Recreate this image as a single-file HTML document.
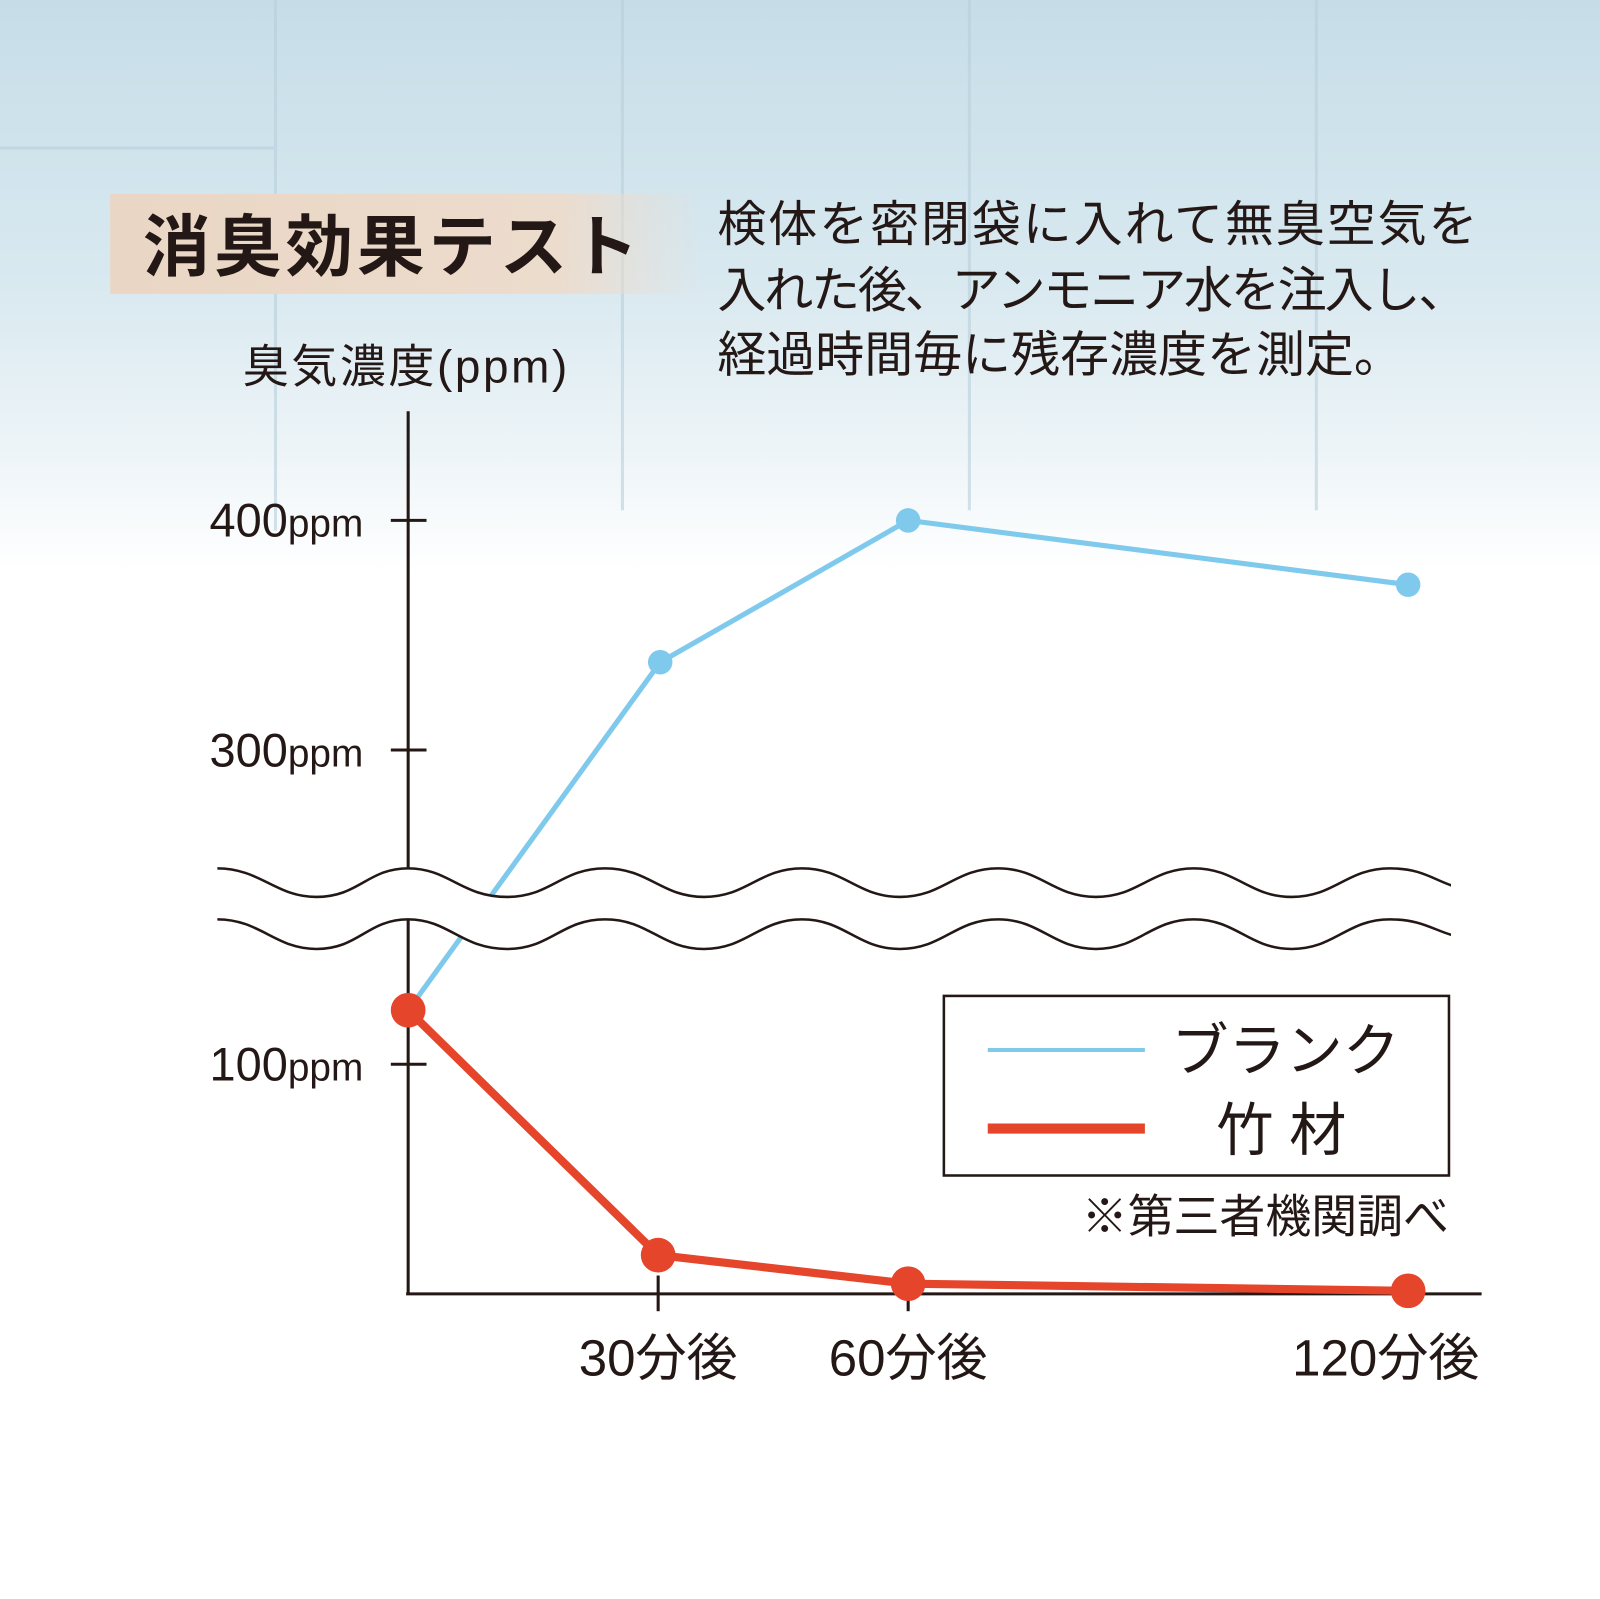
<!DOCTYPE html>
<html><head><meta charset="utf-8"><style>
body{margin:0;width:1600px;height:1599px;overflow:hidden;background:#fff;font-family:"Liberation Sans","Noto Sans CJK JP",sans-serif}
</style></head><body>
<svg width="1600" height="1599" xmlns="http://www.w3.org/2000/svg" style="position:absolute;left:0;top:0">
<defs>
<linearGradient id="bg" x1="0" y1="0" x2="0" y2="1">
<stop offset="0" stop-color="#c6dde8"/><stop offset="0.5" stop-color="#d9e9f0"/><stop offset="0.8" stop-color="#eef5f8"/><stop offset="1" stop-color="#fff"/></linearGradient>
<linearGradient id="tb" x1="0" y1="0" x2="1" y2="0">
<stop offset="0" stop-color="#ead6c4"/><stop offset="0.75" stop-color="#ecdccd"/><stop offset="1" stop-color="#ecdccd" stop-opacity="0"/></linearGradient>
<clipPath id="wc"><rect x="0" y="780" width="1422" height="200"/></clipPath>
</defs>
<g transform="scale(1.0204)">
<rect x="0" y="0" width="1600" height="560" fill="url(#bg)"/>
<g stroke="#b9d0dc" stroke-width="3" opacity="0.6">
<line x1="270" y1="0" x2="270" y2="520"/><line x1="610" y1="0" x2="610" y2="500"/><line x1="950" y1="0" x2="950" y2="500"/><line x1="1290" y1="0" x2="1290" y2="500"/><line x1="0" y1="145" x2="270" y2="145"/></g>
<rect x="108" y="190" width="580" height="98" fill="url(#tb)"/>
<text x="140" y="265" font-size="66" font-weight="bold" fill="#231815" letter-spacing="4">消臭効果テスト</text>
<g font-size="48" fill="#231815">
<text x="703" y="236" textLength="745">検体を密閉袋に入れて無臭空気を</text>
<text x="703" y="301" textLength="735">入れた後、アンモニア水を注入し、</text>
<text x="703" y="364">経過時間毎に残存濃度を測定。</text>
<text x="238" y="375" font-size="45" textLength="318">臭気濃度(ppm)</text>
</g>
<g font-size="46" fill="#231815" text-anchor="end">
<text x="356" y="526">400<tspan font-size="38">ppm</tspan></text>
<text x="356" y="751">300<tspan font-size="38">ppm</tspan></text>
<text x="356" y="1059">100<tspan font-size="38">ppm</tspan></text>
</g>
<g stroke="#231815" stroke-width="3" fill="none">
<line x1="400" y1="403" x2="400" y2="1269"/><line x1="398" y1="1268" x2="1452" y2="1268"/>
<line x1="383" y1="510" x2="418" y2="510"/><line x1="383" y1="735" x2="418" y2="735"/><line x1="383" y1="1043" x2="418" y2="1043"/>
<line x1="645" y1="1250" x2="645" y2="1285"/><line x1="890" y1="1250" x2="890" y2="1285"/>
</g>
<polyline points="400,990 647,649 890,510 1380,573" fill="none" stroke="#7fc9ec" stroke-width="5"/>
<g fill="#7fc9ec"><circle cx="647" cy="649" r="12"/><circle cx="890" cy="510" r="12"/><circle cx="1380" cy="573" r="12"/></g>
<g clip-path="url(#wc)" transform="translate(0,-17)">
<path d="M213,868 C255,868 270,896 310,896 C352,896 360,868 400,868 C440,868 452,896 497,896 C540,896 550,868 593,868 C636,868 648,896 690,896 C732,896 744,868 786,868 C828,868 840,896 882,896 C924,896 936,868 978,868 C1020,868 1032,896 1074,896 C1116,896 1128,868 1170,868 C1212,868 1224,896 1266,896 C1308,896 1320,868 1362,868 C1404,868 1410,888 1450,890 L1450,937 C1410,937 1404,918 1362,918 C1320,918 1308,947 1266,947 C1224,947 1212,918 1170,918 C1128,918 1116,947 1074,947 C1032,947 1020,918 978,918 C936,918 924,947 882,947 C840,947 828,918 786,918 C744,918 732,947 690,947 C648,947 636,918 593,918 C550,918 540,947 497,947 C452,947 440,918 400,918 C360,918 352,947 310,947 C270,947 255,918 213,918 Z" fill="#fff"/>
<g stroke="#231815" stroke-width="2.5" fill="none">
<path d="M213,868 C255,868 270,896 310,896 C352,896 360,868 400,868 C440,868 452,896 497,896 C540,896 550,868 593,868 C636,868 648,896 690,896 C732,896 744,868 786,868 C828,868 840,896 882,896 C924,896 936,868 978,868 C1020,868 1032,896 1074,896 C1116,896 1128,868 1170,868 C1212,868 1224,896 1266,896 C1308,896 1320,868 1362,868 C1404,868 1410,888 1450,890"/>
<path d="M213,918 C255,918 270,947 310,947 C352,947 360,918 400,918 C440,918 452,947 497,947 C540,947 550,918 593,918 C636,918 648,947 690,947 C732,947 744,918 786,918 C828,918 840,947 882,947 C924,947 936,918 978,918 C1020,918 1032,947 1074,947 C1116,947 1128,918 1170,918 C1212,918 1224,947 1266,947 C1308,947 1320,918 1362,918 C1404,918 1410,937 1450,937"/>
</g>
</g>
<polyline points="400,990 645,1230 890,1258 1380,1265" fill="none" stroke="#e5452b" stroke-width="8"/>
<g fill="#e5452b"><circle cx="400" cy="990" r="17"/><circle cx="645" cy="1230" r="17"/><circle cx="890" cy="1258" r="17"/><circle cx="1380" cy="1265" r="17"/></g>
<rect x="925" y="976" width="495" height="176" fill="#fff" stroke="#231815" stroke-width="2.5"/>
<line x1="968" y1="1029" x2="1122" y2="1029" stroke="#7fc9ec" stroke-width="4"/>
<line x1="968" y1="1106" x2="1122" y2="1106" stroke="#e5452b" stroke-width="10"/>
<g fill="#231815" font-size="56">
<text x="1148" y="1049">ブランク</text>
<text x="1192" y="1127">竹 材</text>
<text x="1420" y="1208" font-size="45" text-anchor="end">※第三者機関調べ</text>
<g font-size="50" text-anchor="middle"><text x="645" y="1348">30分後</text><text x="890" y="1348">60分後</text><text x="1358" y="1348">120分後</text></g>
</g>
</g>
</svg>
</body></html>
